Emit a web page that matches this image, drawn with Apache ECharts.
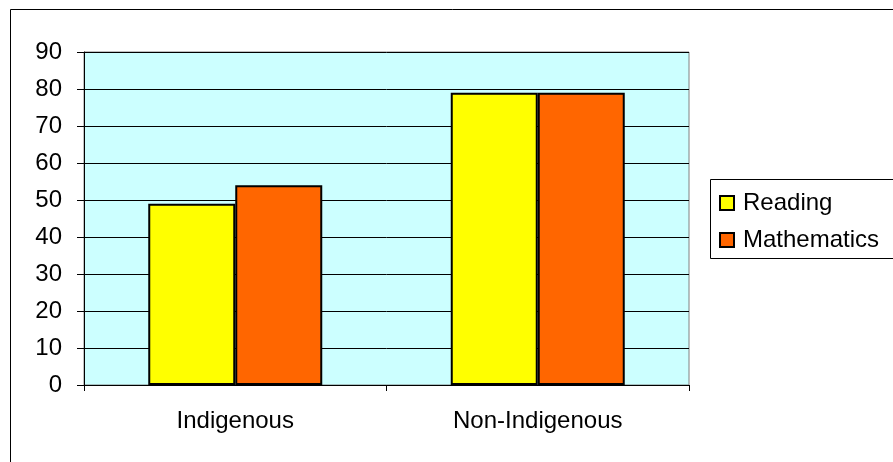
<!DOCTYPE html>
<html>
<head>
<meta charset="utf-8">
<script src="https://cdn.jsdelivr.net/npm/echarts@6/dist/echarts.min.js"></script>
<style>
  html, body { margin: 0; padding: 0; background: #fff; }
  #chart { width: 893px; height: 462px; }
</style>
</head>
<body>
<div id="chart"></div>
<script>
// Share of students reaching the benchmark, by group
const categories = ['Indigenous', 'Non-Indigenous'];
const readingValues = [49, 79];
const mathematicsValues = [54, 79];
const yTicks = [0, 10, 20, 30, 40, 50, 60, 70, 80, 90];

const FONT = '"Liberation Sans", Arial, sans-serif';
const FONT_SIZE = 24;
const chart = echarts.init(document.getElementById('chart'), null, { renderer: 'canvas' });

chart.setOption({
  animation: false,
  backgroundColor: '#ffffff',
  textStyle: { fontFamily: FONT },
  graphic: [
    // outer chart frame, runs past the right and bottom edges
    { type: 'rect', silent: true, z: 0,
      shape: { x: 10.5, y: 9.5, width: 1000, height: 1000 },
      style: { fill: 'none', stroke: '#000', lineWidth: 1 } },
    // legend frame
    { type: 'rect', silent: true, z: 0,
      shape: { x: 710.5, y: 179.5, width: 200, height: 79 },
      style: { fill: '#fff', stroke: '#000', lineWidth: 1 } }
  ],
  grid: {
    left: 84, top: 52, width: 605, height: 333,
    show: true, backgroundColor: '#CCFFFF', borderColor: '#808080', borderWidth: 1
  },
  legend: {
    orient: 'vertical', left: 714, top: 186,
    itemWidth: 14, itemHeight: 14, itemGap: 13,
    icon: 'rect',
    textStyle: { fontFamily: FONT, fontSize: FONT_SIZE, color: '#000', padding: [0, 0, 0, 4] },
    data: ['Reading', 'Mathematics']
  },
  xAxis: {
    type: 'category', data: categories,
    axisLine: { show: true, lineStyle: { color: '#000', width: 1 } },
    axisTick: { show: true, length: 6, inside: false, lineStyle: { color: '#000' } },
    axisLabel: { fontFamily: FONT, fontSize: FONT_SIZE, color: '#000', margin: 24 },
    splitLine: { show: false }
  },
  yAxis: {
    type: 'value', min: yTicks[0], max: yTicks[yTicks.length - 1], interval: 10,
    axisLine: { show: true, lineStyle: { color: '#000', width: 1 } },
    axisTick: { show: true, length: 7, lineStyle: { color: '#000' } },
    axisLabel: { fontFamily: FONT, fontSize: FONT_SIZE, color: '#000', margin: 22 },
    splitLine: { show: true, lineStyle: { color: '#000', width: 1 } }
  },
  series: [
    { name: 'Reading', type: 'bar', data: readingValues, barWidth: 87, barGap: '0%',
      itemStyle: { color: '#FFFF00', borderColor: '#000', borderWidth: 2 } },
    { name: 'Mathematics', type: 'bar', data: mathematicsValues, barWidth: 87, barGap: '0%',
      itemStyle: { color: '#FF6600', borderColor: '#000', borderWidth: 2 } }
  ]
});
</script>
</body>
</html>
